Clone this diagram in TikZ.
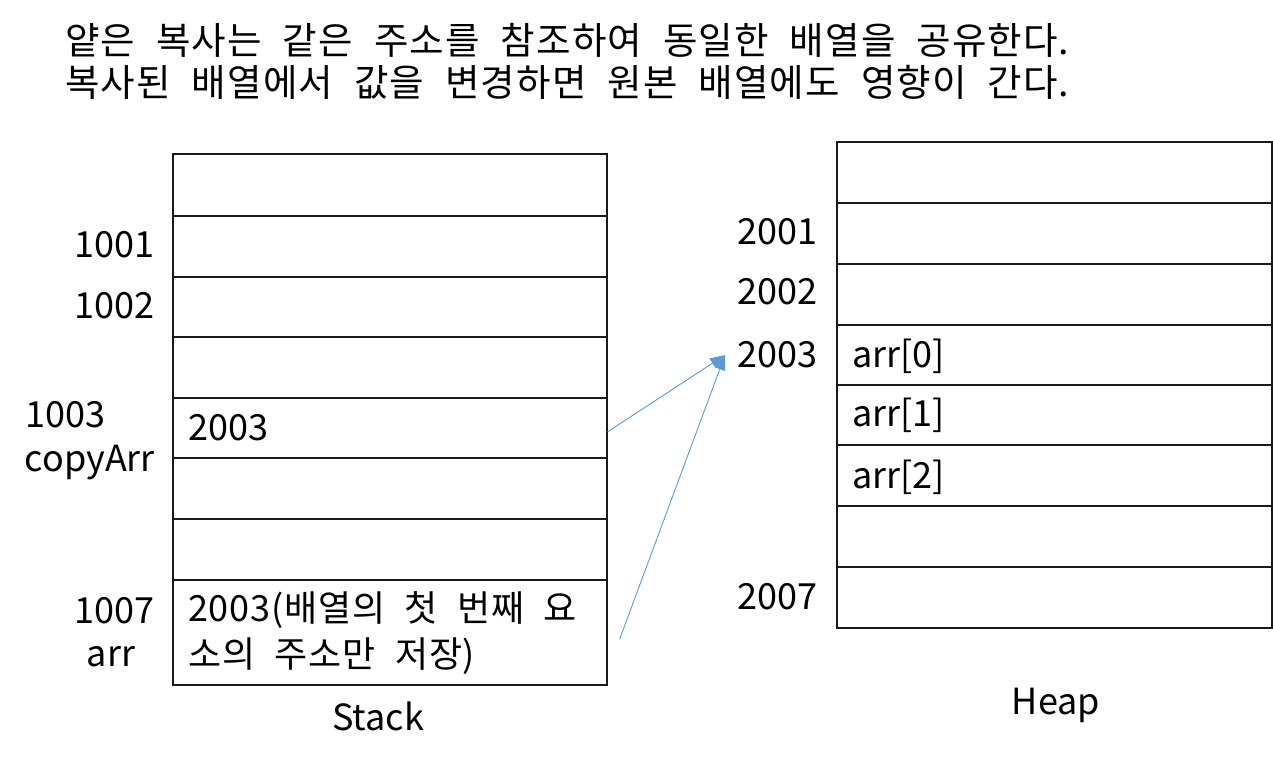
\documentclass[tikz,border=0pt]{standalone}
\usepackage{fontspec}
\setmainfont{Noto Sans CJK KR}[WordSpace=2.2]
\usetikzlibrary{arrows.meta}
\definecolor{arrowblue}{HTML}{5B9BD5}
\begin{document}
\begin{tikzpicture}[x=1pt,y=-1pt,
  cell/.style={draw=black!90,line width=1.6pt,minimum width=434pt,inner sep=0pt,anchor=north west},
  txt/.style={font=\fontsize{36}{46}\selectfont,inner sep=0pt},
  title/.style={font=\fontsize{37.5}{42}\selectfont\addfontfeature{LetterSpace=3}},
  titlenode/.style={inner sep=0pt,anchor=west},
  ptr/.style={draw=arrowblue,line width=0.9pt,-{Triangle[length=15pt,width=11pt]}}]
\useasboundingbox (0,0) rectangle (1273,760);
% title
\node[titlenode,title] (t1) at (65,40) {얕은 복사는 같은 주소를 참조하여 동일한 배열을 공유한다.};
\node[titlenode,title] (t2) at (65,82) {복사된 배열에서 값을 변경하면 원본 배열에도 영향이 간다.};
% stack cells
\node[cell,minimum height=62pt] (s1) at (172,153) {};
\node[cell,minimum height=61pt] (s2) at (172,215) {};
\node[cell,minimum height=60pt] (s3) at (172,276) {};
\node[cell,minimum height=61pt] (s4) at (172,336) {};
\node[cell,minimum height=60pt] (s5) at (172,397) {};
\node[cell,minimum height=61pt] (s6) at (172,457) {};
\node[cell,minimum height=61pt] (s7) at (172,518) {};
\node[cell,minimum height=105pt] (s8) at (172,579) {};
% heap cells
\node[cell,minimum width=435pt,minimum height=61pt] (h1) at (836,141) {};
\node[cell,minimum width=435pt,minimum height=61pt] (h2) at (836,202) {};
\node[cell,minimum width=435pt,minimum height=61pt] (h3) at (836,263) {};
\node[cell,minimum width=435pt,minimum height=60pt] (h4) at (836,324) {};
\node[cell,minimum width=435pt,minimum height=60pt] (h5) at (836,384) {};
\node[cell,minimum width=435pt,minimum height=61pt] (h6) at (836,444) {};
\node[cell,minimum width=435pt,minimum height=61pt] (h7) at (836,505) {};
\node[cell,minimum width=435pt,minimum height=61pt] (h8) at (836,566) {};
% stack texts
\node[txt,anchor=west] (v5) at (188,428) {2003};
\node[txt,anchor=west,align=left] (v8) at (188,633) {\addfontfeature{LetterSpace=2.2}2003(배열의 첫 번째 요\\\addfontfeature{LetterSpace=2.2}소의 주소만 저장)};
% stack addresses
\node[txt,anchor=east] (a2) at (155,245) {1001};
\node[txt,anchor=east] (a3) at (155,306) {1002};
\node[txt,anchor=west] (a5) at (25,415) {1003};
\node[txt,anchor=east] (a5b) at (155,463) {copyArr};
\node[txt,anchor=east] (a8) at (155,611) {1007};
\node[txt] (a8b) at (111,657) {arr};
\node[txt] (stk) at (378,716) {Stack};
% heap texts
\node[txt,anchor=east] (b2) at (818,232) {2001};
\node[txt,anchor=east] (b3) at (818,292) {2002};
\node[txt,anchor=east] (b4) at (818,355) {2003};
\node[txt,anchor=east] (b8) at (818,597) {2007};
\node[txt,anchor=west] (e4) at (852,356) {arr[0]};
\node[txt,anchor=west] (e5) at (852,415) {arr[1]};
\node[txt,anchor=west] (e6) at (852,477) {arr[2]};
\node[txt] (hp) at (1056,705) {Heap};
% pointers
\coordinate (tip) at (725,355);
\coordinate (st2) at ([xshift=12pt,yshift=-7pt]s8.east);
\draw[ptr] ([yshift=-4pt]s5.east) -- (tip);
\draw[ptr] (st2) -- (tip);
\end{tikzpicture}
\end{document}
